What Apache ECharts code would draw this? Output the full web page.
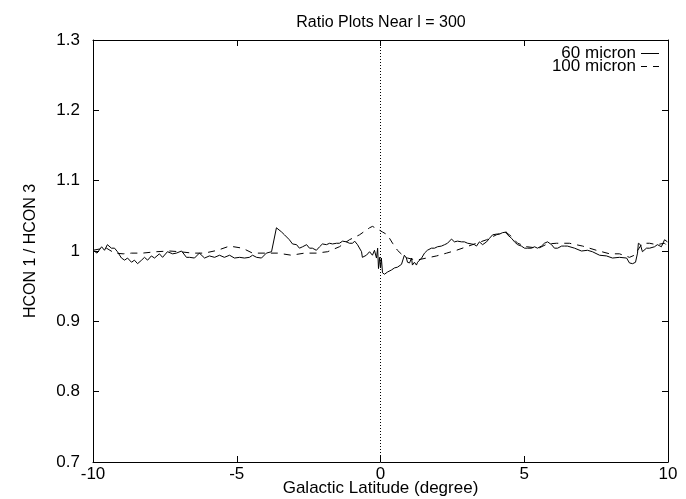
<!DOCTYPE html>
<html>
<head>
<meta charset="utf-8">
<script src="https://cdn.jsdelivr.net/npm/echarts@6/dist/echarts.min.js"></script>
<style>
html,body{margin:0;padding:0;background:#fff;}
#chart{width:686px;height:499px;}
</style>
</head>
<body>
<div id="chart"></div>
<script>
const titleText = 'Ratio Plots Near l = 300';
const xName = 'Galactic Latitude (degree)';
const yName = 'HCON 1 / HCON 3';
const seriesNames = ['60 micron', '100 micron'];
const xTicks = [-10, -5, 0, 5, 10];
const yTicks = [0.7, 0.8, 0.9, 1.0, 1.1, 1.2, 1.3];
const zeroLine = 0;

const lat60 = [-10.0,-9.86,-9.70,-9.60,-9.50,-9.36,-9.25,-9.15,-9.01,-8.90,-8.80,-8.66,-8.56,-8.45,-8.31,-8.21,-8.10,-7.97,-7.86,-7.69,-7.58,-7.41,-7.23,-7.10,-6.92,-6.75,-6.64,-6.47,-6.30,-6.12,-5.95,-5.77,-5.60,-5.43,-5.25,-5.08,-4.90,-4.73,-4.56,-4.45,-4.31,-4.14,-3.97,-3.79,-3.76,-3.62,-3.44,-3.34,-3.17,-3.06,-2.92,-2.82,-2.71,-2.57,-2.47,-2.37,-2.23,-2.12,-2.02,-1.88,-1.77,-1.67,-1.53,-1.43,-1.32,-1.18,-1.08,-0.97,-0.90,-0.80,-0.66,-0.63,-0.49,-0.38,-0.28,-0.21,-0.14,-0.10,-0.07,-0.03,0.00,0.03,0.07,0.14,0.24,0.38,0.49,0.59,0.73,0.83,0.90,0.94,1.01,1.08,1.11,1.18,1.25,1.29,1.43,1.53,1.63,1.77,1.88,1.98,2.12,2.23,2.33,2.47,2.57,2.68,2.82,2.92,3.03,3.17,3.27,3.34,3.44,3.55,3.69,3.79,3.90,4.03,4.14,4.24,4.38,4.42,4.56,4.66,4.77,4.90,5.01,5.11,5.25,5.36,5.46,5.60,5.70,5.81,5.95,6.05,6.16,6.30,6.40,6.50,6.75,6.99,7.20,7.37,7.62,7.86,8.07,8.31,8.56,8.66,8.77,8.87,8.94,8.97,9.04,9.11,9.25,9.36,9.53,9.63,9.77,9.88,9.98];
const ratio60 = [1.001,0.997,1.006,1.001,1.009,1.004,1.004,0.999,0.990,0.987,0.990,0.984,0.987,0.982,0.987,0.991,0.987,0.993,0.990,0.996,0.991,0.999,0.996,0.997,1.000,0.991,0.991,0.990,0.997,0.990,0.993,0.991,0.994,0.991,0.994,0.990,0.991,0.990,0.991,0.994,0.991,0.990,0.997,0.999,1.001,1.033,1.027,1.023,1.016,1.010,1.009,1.004,1.006,1.009,1.004,1.004,1.001,1.006,1.010,1.009,1.011,1.010,1.011,1.011,1.014,1.013,1.011,1.011,1.014,1.009,0.999,0.991,0.994,0.999,0.994,1.001,0.990,1.004,0.975,0.991,0.976,0.990,0.969,0.967,0.970,0.973,0.976,0.977,0.981,0.994,0.990,0.984,0.983,0.990,0.980,0.984,0.980,0.984,0.990,0.997,1.001,1.004,1.004,1.006,1.007,1.009,1.011,1.017,1.013,1.014,1.013,1.013,1.011,1.010,1.009,1.007,1.013,1.009,1.013,1.018,1.023,1.024,1.024,1.026,1.027,1.023,1.018,1.013,1.009,1.007,1.004,1.004,1.004,1.006,1.004,1.007,1.011,1.013,1.009,1.004,1.004,1.007,1.007,1.007,1.004,1.000,1.001,0.999,0.994,0.993,0.990,0.991,0.990,0.983,0.982,0.984,0.997,1.011,1.009,0.999,1.004,1.004,1.006,1.009,1.006,1.016,1.013];

const lat100 = [-10.0,-9.75,-9.53,-9.25,-8.95,-8.66,-8.28,-7.79,-7.34,-6.99,-6.54,-6.12,-5.67,-5.25,-4.80,-4.45,-3.97,-3.58,-3.10,-2.64,-2.23,-1.84,-1.43,-1.08,-0.73,-0.38,-0.28,-0.14,0.07,0.24,0.42,0.59,0.77,0.94,1.25,1.60,1.95,2.30,2.64,2.99,3.34,3.69,4.03,4.31,4.49,4.77,5.10,5.50,5.80,6.12,6.57,7.03,7.51,7.97,8.31,8.66,8.83,9.11,9.36,9.60,9.88,10.0];
const ratio100 = [1.001,1.003,1.004,0.997,0.996,0.997,0.997,0.999,1.000,0.999,0.997,0.997,1.001,1.007,1.004,0.997,0.997,0.997,0.994,0.997,0.997,0.999,1.006,1.016,1.023,1.033,1.035,1.032,1.027,1.023,1.011,1.001,0.994,0.990,0.987,0.990,0.993,0.997,1.001,1.006,1.011,1.016,1.023,1.027,1.023,1.011,1.006,1.004,1.010,1.011,1.011,1.007,1.001,0.996,0.996,0.991,0.994,1.011,1.011,1.009,1.011,1.006];

const font = 'Liberation Sans, Arial, sans-serif';
const pairs = (xs, ys) => xs.map((x, i) => [x, ys[i]]);

const chart = echarts.init(document.getElementById('chart'), null, {renderer: 'canvas'});
const axisCommon = {
  axisLine: {show: true, onZero: false, lineStyle: {color: '#000', width: 1}},
  axisTick: {show: true, inside: true, length: 6, lineStyle: {color: '#000', width: 1}},
  splitLine: {show: false}
};
chart.setOption({
  animation: false,
  backgroundColor: '#fff',
  title: {
    text: titleText, left: 376, top: 10, textAlign: 'center',
    textStyle: {fontFamily: font, fontSize: 16, fontWeight: 'normal', color: '#000'}
  },
  grid: {left: 93, right: 18, top: 40, bottom: 37, containLabel: false, outerBoundsMode: 'none'},
  legend: {
    right: 22, top: 40, orient: 'vertical', align: 'right', itemGap: -4,
    itemWidth: 18, itemHeight: 1,
    itemStyle: {borderWidth: 0},
    textStyle: {fontFamily: font, fontSize: 17, color: '#000', lineHeight: 14},
    data: [
      {name: seriesNames[0], icon: 'path://M0,0H18V1H0Z'},
      {name: seriesNames[1], icon: 'path://M0,0H6V1H0ZM12,0H18V1H12Z'}
    ]
  },
  xAxis: [
    Object.assign({}, axisCommon, {
      type: 'value', min: xTicks[0], max: xTicks[xTicks.length - 1], interval: 5,
      name: xName, nameLocation: 'middle', nameGap: 18, nameMoveOverlap: false,
      nameTextStyle: {fontFamily: font, fontSize: 17, color: '#000'},
      axisLabel: {fontFamily: font, fontSize: 17, color: '#000', margin: 4,
        formatter: v => String(Math.round(v))}
    }),
    Object.assign({}, axisCommon, {
      type: 'value', position: 'top', min: xTicks[0], max: xTicks[xTicks.length - 1], interval: 5,
      axisLabel: {show: false}
    })
  ],
  yAxis: [
    Object.assign({}, axisCommon, {
      type: 'value', min: yTicks[0], max: yTicks[yTicks.length - 1], interval: 0.1,
      name: yName, nameLocation: 'middle', nameGap: 54, nameRotate: 90,
      nameTextStyle: {fontFamily: font, fontSize: 16, color: '#000'},
      axisLabel: {fontFamily: font, fontSize: 17, color: '#000', margin: 13,
        formatter: v => String(+v.toFixed(1))}
    }),
    Object.assign({}, axisCommon, {
      type: 'value', position: 'right', min: yTicks[0], max: yTicks[yTicks.length - 1], interval: 0.1,
      axisLabel: {show: false}
    })
  ],
  series: [
    {
      name: seriesNames[0], type: 'line', data: pairs(lat60, ratio60),
      showSymbol: false, symbol: 'none',
      lineStyle: {color: '#000', width: 1, type: 'solid'},
      itemStyle: {color: '#000'},
      markLine: {
        silent: true, symbol: 'none', label: {show: false},
        lineStyle: {color: '#000', width: 1, type: [1, 2]},
        data: [{xAxis: zeroLine}]
      }
    },
    {
      name: seriesNames[1], type: 'line', data: pairs(lat100, ratio100),
      showSymbol: false, symbol: 'none',
      lineStyle: {color: '#000', width: 1, type: [7, 6]},
      itemStyle: {color: '#000'}
    }
  ]
});
</script>
</body>
</html>
